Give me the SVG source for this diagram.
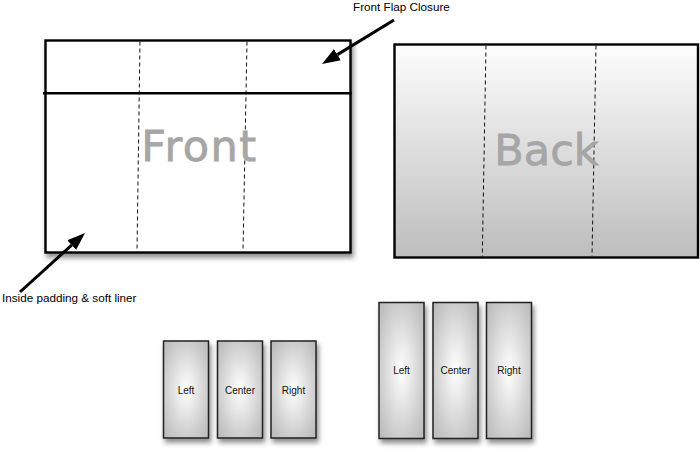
<svg xmlns="http://www.w3.org/2000/svg" width="700" height="454" viewBox="0 0 700 454">
<defs>
  <linearGradient id="backGrad" x1="0" y1="0" x2="0" y2="1">
    <stop offset="0" stop-color="#fdfdfd"/>
    <stop offset="1" stop-color="#bdbdbd"/>
  </linearGradient>
  <radialGradient id="panelGrad" cx="0.5" cy="0.5" r="0.7" gradientUnits="objectBoundingBox">
    <stop offset="0" stop-color="#ffffff"/>
    <stop offset="0.75" stop-color="#c8c8c8"/>
    <stop offset="1" stop-color="#b8b8b8"/>
  </radialGradient>
  <filter id="shadow" x="-20%" y="-20%" width="150%" height="150%">
    <feDropShadow dx="2" dy="4" stdDeviation="2.5" flood-color="#000" flood-opacity="0.45"/>
  </filter>
  <marker id="head" viewBox="0 -7 19 14" markerWidth="19" markerHeight="14" refX="0" refY="0" orient="auto" markerUnits="userSpaceOnUse">
    <path d="M0,-6.5 L18,0 L0,6.5 z" fill="#000"/>
  </marker>
</defs>
<style>
  .sheet { stroke: #000; stroke-width: 2.4; }
  .fold { stroke: #111; stroke-width: 1; stroke-dasharray: 4 3; fill: none; }
  .big { font-family: "DejaVu Sans", sans-serif; font-size: 43px; fill: #a6a6a6; stroke: #a6a6a6; stroke-width: 0.8; text-anchor: middle; }
  .note { font-family: "Liberation Sans", Arial, sans-serif; font-size: 11.7px; fill: #000; }
  .panel { fill: url(#panelGrad); stroke: #222; stroke-width: 1.5; filter: url(#shadow); }
  .plabel { font-family: "Liberation Sans", Arial, sans-serif; font-size: 10px; fill: #111; text-anchor: middle; }
  .arrow { stroke: #000; stroke-width: 3; fill: none; marker-end: url(#head); }
</style>

<g id="front">
  <rect class="sheet" x="45.5" y="40.5" width="305" height="212" fill="#ffffff" filter="url(#shadow)"/>
  <line class="fold" x1="140" y1="41.5" x2="137" y2="251.5"/>
  <line class="fold" x1="247" y1="41.5" x2="243" y2="251.5"/>
  <line x1="43" y1="93.2" x2="352" y2="93.2" stroke="#000" stroke-width="2.6"/>
  <text class="big" x="199.5" y="161" letter-spacing="1.5">Front</text>
</g>

<g id="back">
  <rect class="sheet" x="394.5" y="44.5" width="303.5" height="213" fill="url(#backGrad)"/>
  <line class="fold" x1="486" y1="45.5" x2="482.3" y2="256.5"/>
  <line class="fold" x1="596" y1="45.5" x2="592" y2="256.5"/>
  <text class="big" x="546.5" y="165">Back</text>
</g>

<g id="label-flap">
  <text class="note" x="353" y="11">Front Flap Closure</text>
</g>
<g id="label-padding">
  <text class="note" x="2" y="302">Inside padding &amp; soft liner</text>
</g>

<g id="small-left">
  <rect class="panel" x="163.5" y="341" width="45" height="97"/>
  <text class="plabel" x="186" y="393.5">Left</text>
</g>
<g id="small-center">
  <rect class="panel" x="217.5" y="341" width="45" height="97"/>
  <text class="plabel" x="240" y="393.5">Center</text>
</g>
<g id="small-right">
  <rect class="panel" x="271" y="341" width="45" height="97"/>
  <text class="plabel" x="293.5" y="393.5">Right</text>
</g>

<g id="tall-left">
  <rect class="panel" x="379" y="302.5" width="45" height="136"/>
  <text class="plabel" x="401.5" y="374">Left</text>
</g>
<g id="tall-center">
  <rect class="panel" x="433" y="302.5" width="45" height="136"/>
  <text class="plabel" x="455.5" y="374">Center</text>
</g>
<g id="tall-right">
  <rect class="panel" x="486.5" y="302.5" width="45" height="136"/>
  <text class="plabel" x="509" y="374">Right</text>
</g>

<g id="connectors">
  <line class="arrow" x1="394" y1="20" x2="337.4" y2="54.6"/>
  <line class="arrow" x1="20" y1="292" x2="71.7" y2="245.1"/>
</g>
</svg>
